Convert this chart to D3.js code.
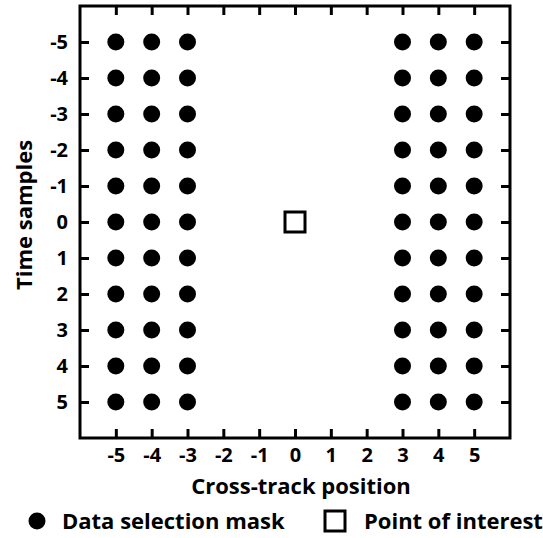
<!DOCTYPE html>
<html>
<head>
<meta charset="utf-8">
<script src="https://cdn.jsdelivr.net/npm/d3@7/dist/d3.min.js"></script>
<style>
  html, body { margin: 0; padding: 0; background: #fff; }
  svg { display: block; }
  text { font-family: "Open Sans", sans-serif; font-weight: bold; fill: #000; }
</style>
</head>
<body>
<svg id="chart" width="543" height="538"></svg>
<script>
// Cross-track positions covered by the selection mask
const maskColumns = [-5, -4, -3, 3, 4, 5];
// Time sample offsets (rows)
const timeSamples = [-5, -4, -3, -2, -1, 0, 1, 2, 3, 4, 5];
// Location of the point of interest [cross-track, time]
const pointOfInterest = [0, 0];
// Tick values on both axes
const xTicks = [-5, -4, -3, -2, -1, 0, 1, 2, 3, 4, 5];
const yTicks = [-5, -4, -3, -2, -1, 0, 1, 2, 3, 4, 5];
const legendLabels = ["Data selection mask", "Point of interest"];

const svg = d3.select("#chart");
const plotLeft = 80, plotRight = 510, plotTop = 6, plotBottom = 438;

const x = d3.scaleLinear().domain([-6, 6]).range([plotLeft, plotRight]);
const y = d3.scaleLinear().domain([-6, 6]).range([plotTop, plotBottom]);

const tickLen = 9;
const tickFont = 20, titleFont = 22;
const fmt = d => String(d); // plain hyphen-minus

// Mask points
const maskPoints = [];
maskColumns.forEach(c => timeSamples.forEach(t => maskPoints.push([c, t])));

svg.append("g").selectAll("circle")
  .data(maskPoints)
  .enter().append("circle")
  .attr("cx", d => x(d[0]))
  .attr("cy", d => y(d[1]))
  .attr("r", 8.5)
  .attr("fill", "#000");

// Point of interest square
const sq = 20;
svg.append("rect")
  .attr("x", x(pointOfInterest[0]) - sq / 2)
  .attr("y", y(pointOfInterest[1]) - sq / 2)
  .attr("width", sq)
  .attr("height", sq)
  .attr("fill", "none")
  .attr("stroke", "#000")
  .attr("stroke-width", 3);

// Axes with inward ticks on all four sides
function styleAxis(g) {
  g.select(".domain").remove();
  g.selectAll(".tick line").attr("stroke", "#000").attr("stroke-width", 3);
}
function styleLabels(g) {
  g.selectAll("text")
    .attr("font-size", tickFont)
    .attr("font-family", "'Open Sans', sans-serif")
    .attr("font-weight", "bold");
}

svg.append("g")
  .attr("transform", `translate(0,${plotBottom})`)
  .call(d3.axisBottom(x).tickValues(xTicks).tickSizeInner(-tickLen).tickSizeOuter(0).tickPadding(24).tickFormat(fmt))
  .call(styleAxis)
  .call(styleLabels)
  .call(g => g.selectAll("text").attr("dy", 0));

svg.append("g")
  .attr("transform", `translate(0,${plotTop})`)
  .call(d3.axisTop(x).tickValues(xTicks).tickSizeInner(-tickLen).tickSizeOuter(0).tickFormat(""))
  .call(styleAxis);

svg.append("g")
  .attr("transform", `translate(${plotLeft},0)`)
  .call(d3.axisLeft(y).tickValues(yTicks).tickSizeInner(-tickLen).tickSizeOuter(0).tickPadding(12).tickFormat(fmt))
  .call(styleAxis)
  .call(styleLabels);

svg.append("g")
  .attr("transform", `translate(${plotRight},0)`)
  .call(d3.axisRight(y).tickValues(yTicks).tickSizeInner(-tickLen).tickSizeOuter(0).tickFormat(""))
  .call(styleAxis);

// Frame
svg.append("rect")
  .attr("x", plotLeft).attr("y", plotTop)
  .attr("width", plotRight - plotLeft).attr("height", plotBottom - plotTop)
  .attr("fill", "none").attr("stroke", "#000").attr("stroke-width", 3);

// Axis titles
svg.append("text")
  .attr("x", 301)
  .attr("y", 494)
  .attr("text-anchor", "middle")
  .attr("font-size", titleFont)
  .text("Cross-track position");

svg.append("text")
  .attr("transform", `translate(32,215) rotate(-90)`)
  .attr("text-anchor", "middle")
  .attr("font-size", titleFont)
  .text("Time samples");

// Legend
const lg = svg.append("g");
lg.append("circle").attr("cx", 37).attr("cy", 521).attr("r", 8.5).attr("fill", "#000");
lg.append("text").attr("x", 62).attr("y", 529).attr("font-size", titleFont).text(legendLabels[0]);
lg.append("rect").attr("x", 325).attr("y", 511).attr("width", 20).attr("height", 20)
  .attr("fill", "none").attr("stroke", "#000").attr("stroke-width", 3);
lg.append("text").attr("x", 364).attr("y", 529).attr("font-size", titleFont).text(legendLabels[1]);
</script>
</body>
</html>
